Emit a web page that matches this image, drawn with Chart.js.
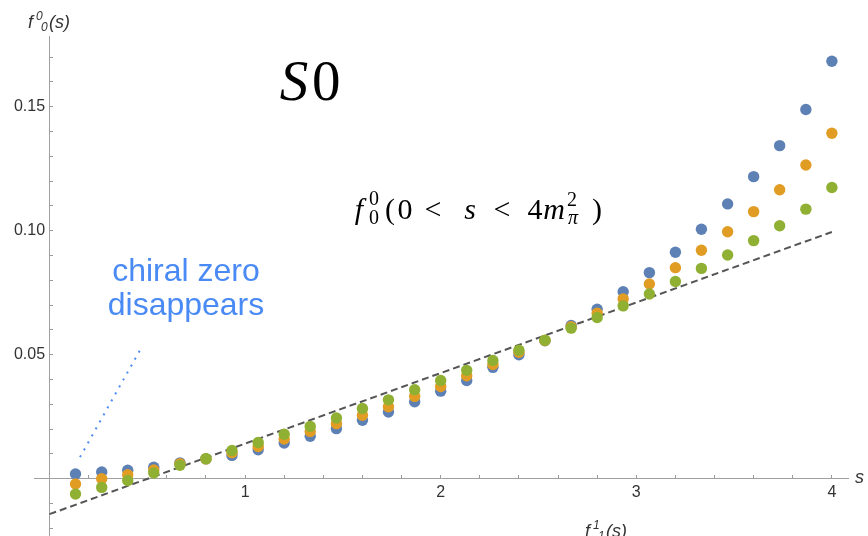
<!DOCTYPE html>
<html><head><meta charset="utf-8">
<script src="https://cdn.jsdelivr.net/npm/chart.js@4"></script>
<style>html,body{margin:0;padding:0;background:#fff}#wrap{width:868px;height:536px}</style>
</head><body><div id="wrap"><canvas id="c" width="868" height="536"></canvas></div>
<script>
const sValues = [0.133,0.267,0.4,0.533,0.667,0.8,0.933,1.067,1.2,1.333,1.467,1.6,1.733,1.867,2.0,
                 2.133,2.267,2.4,2.533,2.667,2.8,2.933,3.067,3.2,3.333,3.467,3.6,3.733,3.867,4.0];
const seriesBlue = [0.0019,0.0027,0.0034,0.0046,0.0064,0.0080,0.0094,0.0117,0.0144,0.0171,0.0202,0.0236,0.0269,0.0310,0.0353,
                    0.0396,0.0449,0.0500,0.0556,0.0618,0.0683,0.0754,0.0831,0.0913,0.1006,0.1108,0.1218,0.1343,0.1489,0.1683];
const seriesOrange = [-0.0021,0.0000,0.0016,0.0035,0.0060,0.0080,0.0105,0.0130,0.0160,0.0190,0.0222,0.0256,0.0290,0.0332,0.0372,
                      0.0415,0.0461,0.0510,0.0557,0.0613,0.0667,0.0725,0.0785,0.0851,0.0921,0.0996,0.1077,0.1165,0.1265,0.1393];
const seriesGreen = [-0.0062,-0.0035,-0.0007,0.0023,0.0054,0.0081,0.0114,0.0146,0.0179,0.0211,0.0245,0.0283,0.0318,0.0359,0.0396,
                     0.0437,0.0477,0.0518,0.0558,0.0607,0.0650,0.0697,0.0745,0.0795,0.0848,0.0902,0.0960,0.1020,0.1087,0.1174];
const dashedLineS = [0, 4];
const dashedLineF = [-0.0143, 0.0995];
const chiralLineS = [0.156, 0.463];
const chiralLineF = [0.0087, 0.0519];
const xTickValues = [0.2,0.4,0.6,0.8,1,1.2,1.4,1.6,1.8,2,2.2,2.4,2.6,2.8,3,3.2,3.4,3.6,3.8,4];
const xTickLabels = [1,2,3,4];
const yTickValues = [-0.02,-0.01,0.01,0.02,0.03,0.04,0.05,0.06,0.07,0.08,0.09,0.10,0.11,0.12,0.13,0.14,0.15,0.16,0.17];
const yTickLabels = [0.05,0.10,0.15];

const pts = (xs, ys) => xs.map((x, i) => ({x: x, y: ys[i]}));
const has = (arr, v) => arr.some(a => Math.abs(a - v) < 1e-9);
const zeroPad = s => { s.paddingLeft = 0; s.paddingRight = 0; s.paddingTop = 0; s.paddingBottom = 0; };

const textPlugin = {
  id: 'texts',
  afterDraw(chart) {
    const ctx = chart.ctx;
    ctx.save();
    ctx.textBaseline = 'alphabetic';
    // S0
    ctx.fillStyle = '#000';
    ctx.textAlign = 'center';
    ctx.font = 'italic 57px "Liberation Serif"';
    ctx.fillText('S', 294, 100);
    ctx.textAlign = 'left';
    ctx.font = '57px "Liberation Serif"';
    ctx.fillText('0', 312, 100);
    // formula f_0^0(0 < s < 4 m_pi^2)
    const big = '30px "Liberation Serif"', bigI = 'italic 30px "Liberation Serif"';
    const sm = '20px "Liberation Serif"', smI = 'italic 20px "Liberation Serif"';
    const pieces = [
      ['f', bigI, 359, 219], ['0', sm, 374, 205], ['0', sm, 374, 224],
      ['(', big, 390, 219], ['0', big, 405, 219], ['<', big, 433, 219],
      ['s', bigI, 470, 219], ['<', big, 502, 219], ['4', big, 535, 219],
      ['m', bigI, 554, 219], ['2', sm, 572, 206], ['\u03c0', smI, 573, 224], [')', big, 597, 219]
    ];
    ctx.textAlign = 'center';
    pieces.forEach(p => { ctx.font = p[1]; ctx.fillText(p[0], p[2], p[3]); });
    // chiral zero disappears
    ctx.fillStyle = '#4a8af4';
    ctx.font = '32px "Liberation Sans"';
    ctx.fillText('chiral zero', 186, 281);
    ctx.fillText('disappears', 186, 315);
    // axis labels
    ctx.fillStyle = '#333';
    ctx.textAlign = 'left';
    const lab = (x, y, d) => {
      ctx.font = 'italic 18px "Liberation Sans"'; ctx.fillText('f', x, y);
      ctx.font = 'italic 12px "Liberation Sans"'; ctx.fillText(d, x + 8, y - 8); ctx.fillText(d, x + 13, y + 3);
      ctx.font = 'italic 18px "Liberation Sans"'; ctx.fillText('(s)', x + 21, y);
    };
    lab(28, 28, '0');
    lab(585, 537, '1');
    ctx.font = 'italic 18px "Liberation Sans"';
    ctx.fillText('s', 855, 483);
    ctx.restore();
  }
};

const axisCommon = {
  type: 'linear',
  afterFit: zeroPad,
  grid: {display: true, drawOnChartArea: false, drawTicks: true, tickLength: -4, tickColor: '#9a9a9a', tickWidth: 1},
  border: {display: true, color: '#a0a0a0', width: 1},
};

new Chart(document.getElementById('c'), {
  type: 'scatter',
  data: {
    datasets: [
      {data: pts(sValues, seriesGreen), backgroundColor: '#8fb032', borderWidth: 0, pointRadius: 5.7, order: 1},
      {data: pts(sValues, seriesOrange), backgroundColor: '#e19c24', borderWidth: 0, pointRadius: 5.7, order: 2},
      {data: pts(sValues, seriesBlue), backgroundColor: '#5e81b5', borderWidth: 0, pointRadius: 5.7, order: 3},
      {data: pts(dashedLineS, dashedLineF), showLine: true, borderColor: '#555', borderWidth: 2, borderDash: [7, 4], pointRadius: 0, order: 4},
      {data: pts(chiralLineS, chiralLineF), showLine: true, borderColor: '#4a8af4', borderWidth: 2, borderDash: [2, 6], pointRadius: 0, order: 5}
    ]
  },
  options: {
    responsive: false, animation: false, devicePixelRatio: 1,
    layout: {autoPadding: false, padding: {left: 34, right: 20, top: 36, bottom: 1}},
    plugins: {legend: {display: false}, tooltip: {enabled: false}},
    scales: {
      x: Object.assign({}, axisCommon, {
        min: -0.0792, max: 4.0824, position: {y: 0},
        afterBuildTicks: s => { s.ticks = xTickValues.map(v => ({value: v})); },
        ticks: {padding: 8, color: '#333', autoSkip: false, maxRotation: 0, font: {family: 'Liberation Sans', size: 16},
                callback: v => has(xTickLabels, v) ? String(v) : ''}
      }),
      y: Object.assign({}, axisCommon, {
        min: -0.0227, max: 0.17851, position: {x: 0},
        afterBuildTicks: s => { s.ticks = yTickValues.map(v => ({value: v})); },
        ticks: {padding: 0, color: '#333', autoSkip: false, font: {family: 'Liberation Sans', size: 16},
                callback: v => has(yTickLabels, v) ? v.toFixed(2) + ' ' : ''}
      })
    }
  },
  plugins: [textPlugin]
});
</script>
</body></html>
